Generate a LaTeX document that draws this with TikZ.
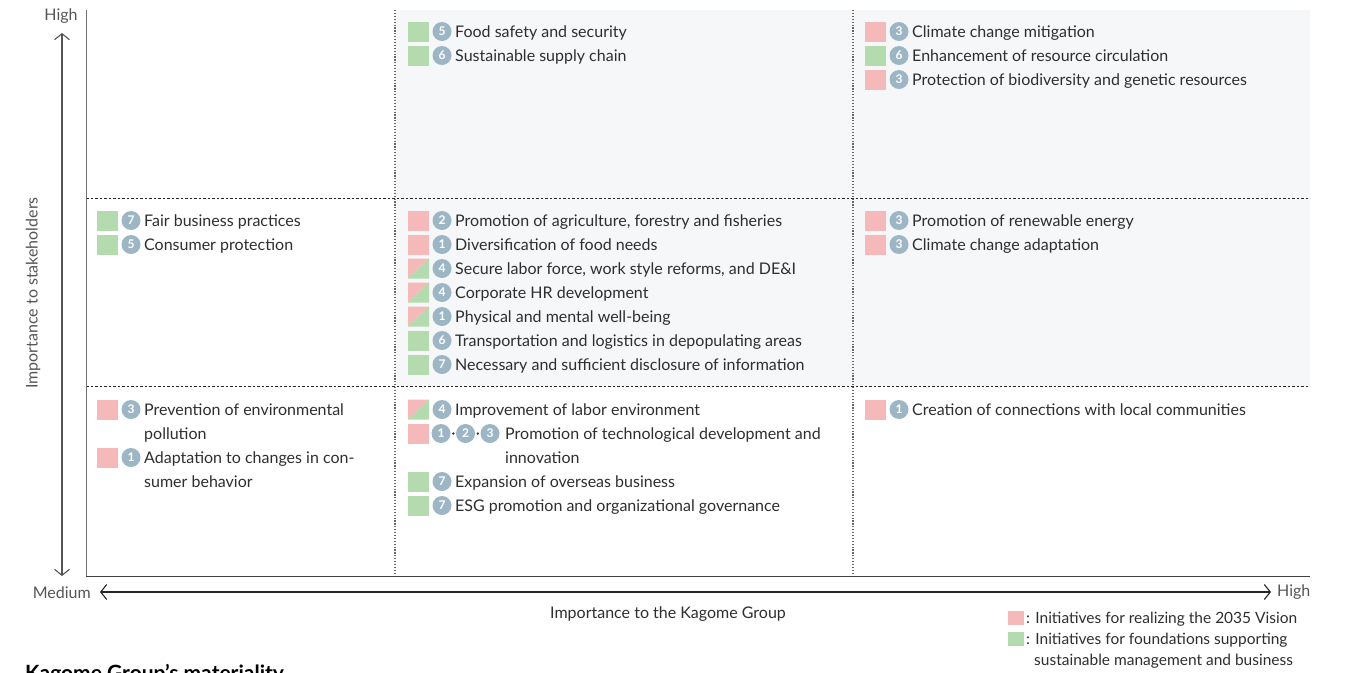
\documentclass[tikz,border=0pt]{standalone}
\usepackage{fontspec}
\setmainfont{Lato}
\usetikzlibrary{arrows.meta}

\definecolor{pinkc}{HTML}{F6B9B9}
\definecolor{greenc}{HTML}{B4DBAD}
\definecolor{numc}{HTML}{9DB6C5}
\definecolor{cellgrey}{HTML}{F6F7F9}
\definecolor{txt}{HTML}{2E2E2E}
\definecolor{axtxt}{HTML}{555555}

\tikzset{
  sqbox/.style={minimum width=21pt, minimum height=20pt, inner sep=0pt, outer sep=0pt},
  sqp/.style={sqbox, fill=pinkc},
  sqg/.style={sqbox, fill=greenc},
  sqs/.style={sqbox},
  numdot/.style={circle, fill=numc, minimum size=19pt, inner sep=0pt, text=white,
    font=\fontsize{12}{12}\selectfont\bfseries},
  itemtext/.style={anchor=base west, inner sep=0pt, text=txt, font=\fontsize{16}{18}\selectfont},
  legtext/.style={anchor=base west, inner sep=0pt, text=txt, font=\fontsize{15.5}{18}\selectfont},
  axislabel/.style={inner sep=0pt, text=axtxt, font=\fontsize{16}{18}\selectfont},
  gridsolid/.style={line width=1pt, draw=black!75},
  griddash/.style={line width=0.9pt, draw=black!85, dash pattern=on 2.5pt off 2pt},
  griddot/.style={line width=1.3pt, draw=black!60, dash pattern=on 1.2pt off 1.7pt},
  axarrow/.style={line width=1.1pt, {Straight Barb[length=6pt,width=15pt]}-{Straight Barb[length=6pt,width=15pt]}},
  legsq/.style={minimum width=16pt, minimum height=14pt, inner sep=0pt},
}

% one materiality entry: name, left x, row y, square type (p/g/s), number, text
\newcommand\matitem[6]{%
  \node[sq#4] (#1-sq) at (#2+10.5,#3) {};
  \node[numdot] (#1-no) at (#2+34,#3) {#5};
  \node[itemtext] (#1-tx) at (#2+47,#3+6.3) {#6};
}
% half pink / half green square
\newcommand\splitfill[1]{%
  \fill[pinkc] (#1-sq.north west) -- (#1-sq.north east) -- (#1-sq.south west) -- cycle;
  \fill[greenc] (#1-sq.north east) -- (#1-sq.south east) -- (#1-sq.south west) -- cycle;
}

\begin{document}
\begin{tikzpicture}[x=1pt,y=-1pt]
\useasboundingbox (0,0) rectangle (1351,672);

% shaded cells
\fill[cellgrey] (395,10) rectangle (1310,386);

% grid
\draw[griddash] (86,198) -- (1310,198);
\draw[griddash] (86,386) -- (1310,386);
\draw[griddot] (395,10) -- (395,576);
\draw[griddot] (853,10) -- (853,576);
\draw[gridsolid, draw=black!55] (86,10) -- (86,576);
\draw[gridsolid] (86,576) -- (1310,576);

% vertical axis
\coordinate (ytop) at (62,33);
\coordinate (ybot) at (62,576);
\draw[axarrow, draw=axtxt] (ybot) -- (ytop);
\node[axislabel] (yhigh) at (61,16) {High};
\node[axislabel, rotate=90] (ytitle) at (33,293) {Importance to stakeholders};

% horizontal axis
\coordinate (xleft) at (100,592);
\coordinate (xright) at (1271,592);
\draw[axarrow, draw=black!85] (xleft) -- (xright);
\node[axislabel, anchor=east] (xmed) at (91,593) {Medium};
\node[axislabel, anchor=west] (xhigh) at (1277,592) {High};
\node[axislabel, text=txt] (xtitle) at (668,614) {Importance to the Kagome Group};

% top row
\matitem{a1}{408}{31.5}{g}{5}{Food safety and security}
\matitem{a2}{408}{55.5}{g}{6}{Sustainable supply chain}
\matitem{b1}{865}{31.5}{p}{3}{Climate change mitigation}
\matitem{b2}{865}{55.5}{g}{6}{Enhancement of resource circulation}
\matitem{b3}{865}{79.5}{p}{3}{Protection of biodiversity and genetic resources}

% middle row
\matitem{c1}{97}{220.5}{g}{7}{Fair business practices}
\matitem{c2}{97}{244.5}{g}{5}{Consumer protection}

\matitem{d1}{408}{220.5}{p}{2}{Promotion of agriculture, forestry and fisheries}
\matitem{d2}{408}{244.5}{p}{1}{Diversification of food needs}
\matitem{d3}{408}{268.5}{s}{4}{Secure labor force, work style reforms, and DE\&I}
\splitfill{d3}
\matitem{d4}{408}{292.5}{s}{4}{Corporate HR development}
\splitfill{d4}
\matitem{d5}{408}{316.5}{s}{1}{Physical and mental well-being}
\splitfill{d5}
\matitem{d6}{408}{340.5}{g}{6}{Transportation and logistics in depopulating areas}
\matitem{d7}{408}{364.5}{g}{7}{Necessary and sufficient disclosure of information}

\matitem{e1}{865}{220.5}{p}{3}{Promotion of renewable energy}
\matitem{e2}{865}{244.5}{p}{3}{Climate change adaptation}

% bottom row
\matitem{f1}{97}{409.5}{p}{3}{Prevention of environmental}
\node[itemtext] (f1-tx2) at (144,439.8) {pollution};
\matitem{f2}{97}{457.5}{p}{1}{Adaptation to changes in con-}
\node[itemtext] (f2-tx2) at (144,487.8) {sumer behavior};

\matitem{g1}{408}{409.5}{s}{4}{Improvement of labor environment}
\splitfill{g1}
\node[sqp] (g2-sq) at (418.5,433.5) {};
\node[numdot] (g2-n1) at (441,433.5) {1};
\node[numdot] (g2-n2) at (465.5,433.5) {2};
\node[numdot] (g2-n3) at (490,433.5) {3};
\fill[txt] (453.3,433.5) circle (1.3pt);
\fill[txt] (477.8,433.5) circle (1.3pt);
\node[itemtext] (g2-tx) at (505,439.8) {Promotion of technological development and};
\node[itemtext] (g2-tx2) at (505,463.8) {innovation};
\matitem{g3}{408}{481.5}{g}{7}{Expansion of overseas business}
\matitem{g4}{408}{505.5}{g}{7}{ESG promotion and organizational governance}

\matitem{h1}{865}{409.5}{p}{1}{Creation of connections with local communities}

% legend
\node[legsq, fill=pinkc] (legp) at (1015.5,618) {};
\node[legtext] (legp-tx) at (1026,623.5) {: Initiatives for realizing the 2035 Vision};
\node[legsq, fill=greenc] (legg) at (1015.5,639) {};
\node[legtext] (legg-tx) at (1026,644.5) {: Initiatives for foundations supporting};
\node[legtext] (legg-tx2) at (1034,665.5) {sustainable management and business};

% heading
\node[anchor=base west, inner sep=0pt, text=black, font=\fontsize{21}{21}\selectfont\bfseries] (title) at (25,680) {Kagome Group’s materiality};
\end{tikzpicture}
\end{document}
